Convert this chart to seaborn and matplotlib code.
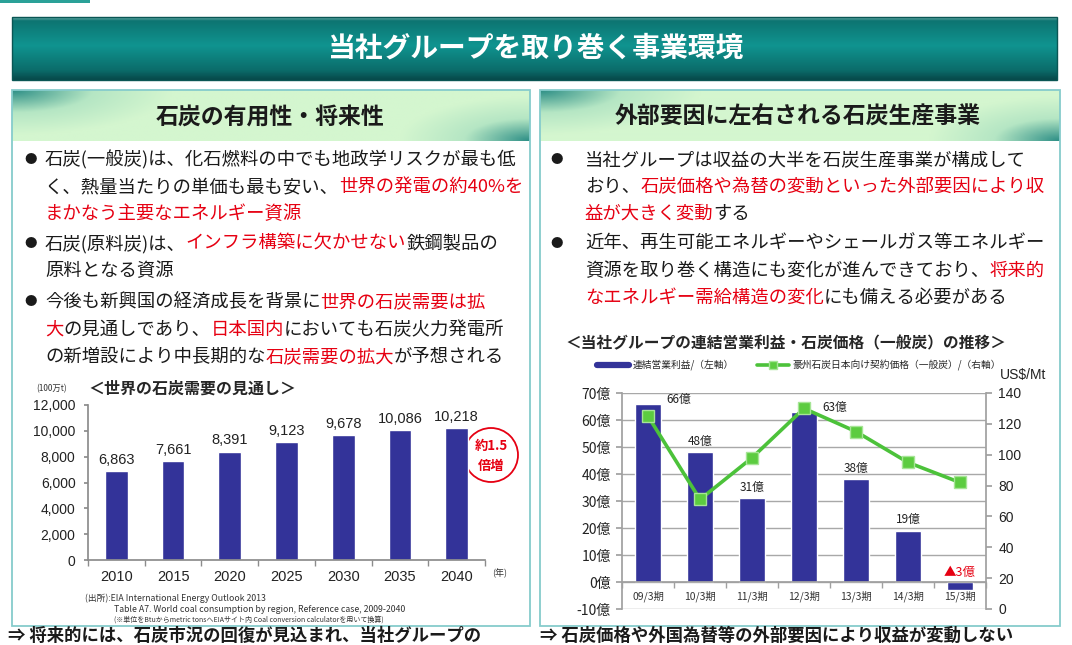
import numpy as np
import matplotlib
matplotlib.use('Agg')
import matplotlib.pyplot as plt
from matplotlib.colors import LinearSegmentedColormap
from matplotlib.patches import Rectangle, Circle
from matplotlib.lines import Line2D
import seaborn as sns

W, H = 1072, 645

# world coal demand outlook (100万t)
years = ['2010', '2015', '2020', '2025', '2030', '2035', '2040']
demand = [6863, 7661, 8391, 9123, 9678, 10086, 10218]

# group operating profit (億) / coal contract price (US$/Mt)
periods = ['09/3期', '10/3期', '11/3期', '12/3期', '13/3期', '14/3期', '15/3期']
profit = [66, 48, 31, 63, 38, 19, -3]
coal_price = [125, 71, 98, 130, 115, 95, 82]

BLUE = '#333399'
GREEN = '#4cc23a'
RED = '#e60012'
K = '#1a1a1a'

left_text = [
    (True, [('石炭(一般炭)は、化石燃料の中でも地政学リスクが最も低', K)]),
    (False, [('く、熱量当たりの単価も最も安い、', K), ('世界の発電の約40%を', RED)]),
    (False, [('まかなう主要なエネルギー資源', RED)]),
    (True, [('石炭(原料炭)は、', K), ('インフラ構築に欠かせない', RED), ('鉄鋼製品の', K)]),
    (False, [('原料となる資源', K)]),
    (True, [('今後も新興国の経済成長を背景に', K), ('世界の石炭需要は拡', RED)]),
    (False, [('大', RED), ('の見通しであり、', K), ('日本国内', RED), ('においても石炭火力発電所', K)]),
    (False, [('の新増設により中長期的な', K), ('石炭需要の拡大', RED), ('が予想される', K)]),
]
left_y = [160, 187, 214, 244, 271, 302, 330, 357]

right_text = [
    (True, [('当社グループは収益の大半を石炭生産事業が構成して', K)]),
    (False, [('おり、', K), ('石炭価格や為替の変動といった外部要因により収', RED)]),
    (False, [('益が大きく変動', RED), ('する', K)]),
    (True, [('近年、再生可能エネルギーやシェールガス等エネルギー', K)]),
    (False, [('資源を取り巻く構造にも変化が進んできており、', K), ('将来的', RED)]),
    (False, [('なエネルギー需給構造の変化', RED), ('にも備える必要がある', K)]),
]
right_y = [160, 187, 214, 244, 271, 298]

sns.set_theme(style='white')
plt.rcParams['font.family'] = ['Noto Sans CJK JP', 'DejaVu Sans']
NUM = ['Liberation Sans', 'Noto Sans CJK JP']

fig = plt.figure(figsize=(W / 100, H / 100), dpi=100)
fig.patch.set_facecolor('white')

# background axes in pixel units
bg = fig.add_axes([0, 0, 1, 1])
bg.set_xlim(0, W)
bg.set_ylim(H, 0)
bg.axis('off')


def gradient(x0, y0, x1, y1, arr, cmap, z=1):
    bg.imshow(arr, cmap=cmap, extent=(x0, x1, y1, y0), origin='upper',
              aspect='auto', interpolation='bilinear', vmin=0, vmax=1, zorder=z)


# title banner
bg.add_patch(Rectangle((0, 0), 90, 3, color='#2aa198', lw=0))
band = LinearSegmentedColormap.from_list('band', [
    (0.0, '#6aaeaa'), (0.05, '#0d7471'), (0.45, '#109490'),
    (0.85, '#0b6c6a'), (1.0, '#07494a')])
yy = np.linspace(0, 1, 80)[:, None] * np.ones((1, 10))
gradient(12, 17, 1057, 80, yy, band)
bg.add_patch(Rectangle((12, 17), 1045, 63, fill=False, ec='#0a5654', lw=1, zorder=2))
bg.text(535, 49, '当社グループを取り巻く事業環境', color='white', fontsize=20,
        weight='bold', ha='center', va='center', zorder=3)

# panel headers
head = LinearSegmentedColormap.from_list('head', ['#d4f6cf', '#b5e6c4', '#2f9087'])
for px0, px1 in [(12, 530), (540, 1060)]:
    w, h = px1 - px0, 51
    xs = np.linspace(0, w, 260)[None, :]
    ys = np.linspace(0, h, 40)[:, None]
    d1 = np.sqrt((xs / 160) ** 2 + (ys / 45) ** 2)
    d2 = np.sqrt(((w - xs) / 130) ** 2 + ((h - ys) / 45) ** 2)
    v = np.clip(np.maximum(1 - d1, 1 - d2), 0, 1)
    gradient(px0, 90, px1, 90 + h, v, head)
    bg.add_patch(Rectangle((px0, 90), w, 536, fill=False, ec='#86cccc', lw=1.3, zorder=2))

bg.text(270, 117, '石炭の有用性・将来性', fontsize=16.5, weight='bold',
        ha='center', va='center', color=K, zorder=3)
bg.text(798, 117, '外部要因に左右される石炭生産事業', fontsize=16.5, weight='bold',
        ha='center', va='center', color=K, zorder=3)

renderer = fig.canvas.get_renderer()


def write_line(x, y, parts, size=13.2):
    for s, c in parts:
        t = bg.text(x, y, s, color=c, fontsize=size, ha='left', va='center', zorder=3)
        x += t.get_window_extent(renderer=renderer).width


for (bul, parts), y in zip(left_text, left_y):
    if bul:
        bg.text(31, y, '●', fontsize=9, ha='center', va='center', color=K)
    write_line(45, y, parts)

for (bul, parts), y in zip(right_text, right_y):
    if bul:
        bg.text(557, y, '●', fontsize=9, ha='center', va='center', color=K)
    write_line(585, y, parts)

# ---- left chart: world coal demand
ax1 = fig.add_axes([88 / W, 1 - 560 / H, (485 - 88) / W, (560 - 405) / H])
sns.barplot(x=years, y=demand, color=BLUE, width=0.4, saturation=1, ax=ax1)
ax1.set_facecolor('none')
ax1.set_xlim(-0.5, 6.5)
ax1.set_ylim(0, 12000)
ax1.set_yticks(range(0, 12001, 2000))
ax1.set_yticklabels([f'{v:,}' for v in range(0, 12001, 2000)], family=NUM)
ax1.set_xticks(range(len(years)))
ax1.set_xticklabels(years, family=NUM)
ax1.set_xticks(np.arange(-0.5, len(years), 1), minor=True)
ax1.set_xlabel('')
ax1.set_ylabel('')
for s in ['top', 'right']:
    ax1.spines[s].set_visible(False)
for s in ['left', 'bottom']:
    ax1.spines[s].set_color('#8c8c8c')
ax1.tick_params(axis='x', which='major', length=0, pad=7, labelsize=10.5, colors='#222')
ax1.tick_params(axis='x', which='minor', length=4, color='#8c8c8c', bottom=True)
ax1.tick_params(axis='y', length=3, pad=6, labelsize=10, colors='#222', left=True)
ax1.tick_params(axis='y', colors='#8c8c8c', labelcolor='#222')
ax1.bar_label(ax1.containers[0], labels=[f'{v:,}' for v in demand], padding=3,
              fontsize=10.5, family=NUM, color='#222')

bg.text(88, 389, '＜世界の石炭需要の見通し＞', fontsize=11.5, weight='bold', ha='left', va='center')
bg.text(36, 389, '(100万t)', fontsize=6, ha='left', va='center', color='#333')
bg.text(492, 573, '(年)', fontsize=6.5, ha='left', va='center', color='#333')
bg.add_patch(Circle((491, 455), 27, fill=False, ec=RED, lw=1.3, zorder=4))
bg.text(491, 446, '約1.5', fontsize=9.5, weight='bold', color=RED, ha='center', va='center', zorder=4)
bg.text(491, 466, '倍増', fontsize=9.5, weight='bold', color=RED, ha='center', va='center', zorder=4)
bg.text(85, 598, '(出所):EIA International Energy Outlook 2013', fontsize=6.3, ha='left', va='center', color='#333')
bg.text(114, 609, 'Table A7. World coal consumption by region, Reference case, 2009-2040',
        fontsize=6.3, ha='left', va='center', color='#333')
bg.text(114, 620, '(※単位をBtuからmetric tonsへEIAサイト内 Coal conversion calculatorを用いて換算)',
        fontsize=5, ha='left', va='center', color='#333')

# ---- right chart: operating profit and coal price
ax2 = fig.add_axes([622 / W, 1 - 609 / H, (986 - 622) / W, (609 - 393) / H])
sns.barplot(x=periods, y=profit, color=BLUE, width=0.5, saturation=1, ax=ax2)
ax2.set_facecolor('none')
ax2.set_xlim(-0.5, 6.5)
ax2.set_ylim(-10, 70)
ax2.set_yticks(range(-10, 71, 10))
ax2.set_yticklabels([f'{v}億' for v in range(-10, 71, 10)])
ax2.yaxis.grid(True, color='#a8a8a8', lw=1)
ax2.set_axisbelow(True)
ax2.spines['bottom'].set_position(('data', 0))
for s in ['top', 'right']:
    ax2.spines[s].set_visible(False)
for s in ['left', 'bottom']:
    ax2.spines[s].set_color('#a0a0a0')
ax2.set_xlabel('')
ax2.set_ylabel('')

ax3 = ax2.twinx()
sns.lineplot(x=periods, y=coal_price, sort=False, ax=ax3, color=GREEN, lw=2.6,
             marker='s', markersize=9, markerfacecolor='#5ccc40',
             markeredgecolor='#a6e596', markeredgewidth=1)
ax3.set_ylim(0, 140)
ax3.set_yticks(range(0, 141, 20))
ax3.set_ylabel('')
ax3.set_xlabel('')
for s in ['top', 'left', 'bottom']:
    ax3.spines[s].set_visible(False)
ax3.spines['right'].set_color('#a0a0a0')
ax3.tick_params(axis='y', length=4, pad=5, labelsize=10, colors='#a0a0a0',
                labelcolor='#222', right=True)
for lab in ax3.get_yticklabels():
    lab.set_family(NUM)

ax2.set_xlim(-0.5, 6.5)
ax2.set_xticks(range(len(periods)))
ax2.set_xticklabels(periods)
ax2.set_xticks(np.arange(-0.5, len(periods), 1), minor=True)
ax2.tick_params(axis='x', which='major', length=0, pad=6, labelsize=7.5, colors='#333')
ax2.tick_params(axis='x', which='minor', length=4, color='#a0a0a0', bottom=True)
ax2.tick_params(axis='y', length=4, pad=4, labelsize=10, colors='#a0a0a0',
                labelcolor='#222', left=True)
ax3.tick_params(axis='x', which='both', length=0, labelbottom=False)

side = [True, False, False, True, False, False, False]
for i, v in enumerate(profit):
    if v < 0:
        ax2.text(i, 1.2, f'▲{abs(v)}億', color=RED, fontsize=9, ha='center', va='bottom')
    elif side[i]:
        ax2.text(i + 0.6, v + 1.5, f'{v}億', color='#222', fontsize=8.5, ha='center', va='center')
    else:
        ax2.text(i, v + 1.6, f'{v}億', color='#222', fontsize=8.5, ha='center', va='bottom')

bg.text(565, 343, '＜当社グループの連結営業利益・石炭価格（一般炭）の推移＞', fontsize=11.3,
        weight='bold', ha='left', va='center')
bg.text(1000, 375, 'US$/Mt', fontsize=10, ha='left', va='center', family=NUM, color='#222')

handles = [Line2D([], [], color=BLUE, lw=4.5),
           Line2D([], [], color=GREEN, lw=2.6, marker='s', markersize=5.5,
                  markerfacecolor='#5ccc40', markeredgecolor='#a6e596')]
fig.legend(handles, ['連結営業利益/（左軸）', '豪州石炭日本向け契約価格（一般炭）/（右軸）'],
           loc='center left', bbox_to_anchor=(597 / W, 1 - 365 / H), ncol=2, frameon=False,
           fontsize=7, borderpad=0, handlelength=3.3, handletextpad=0.4, columnspacing=2.3,
           borderaxespad=0)

# bottom conclusions (kept fully inside the canvas)
bg.text(8, 636, '⇒ 将来的には、石炭市況の回復が見込まれ、当社グループの', fontsize=12.5,
        weight='bold', ha='left', va='center', color=K)
bg.text(540, 636, '⇒ 石炭価格や外国為替等の外部要因により収益が変動しない', fontsize=12.5,
        weight='bold', ha='left', va='center', color=K)

fig.savefig('out.png', dpi=100)
